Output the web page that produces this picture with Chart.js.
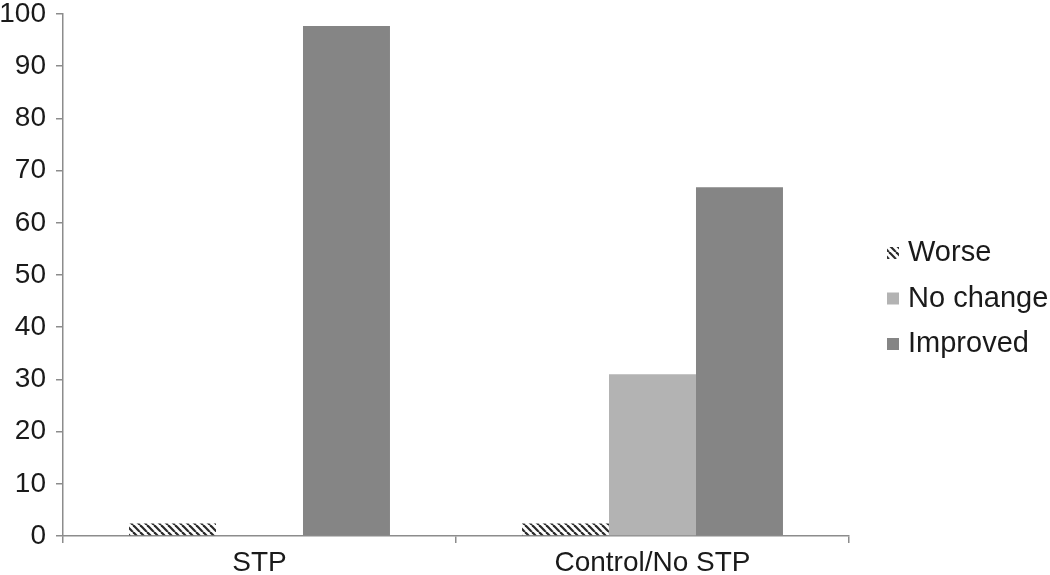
<!DOCTYPE html>
<html>
<head>
<meta charset="utf-8">
<script src="https://cdn.jsdelivr.net/npm/chart.js@4.4.0/dist/chart.umd.min.js"></script>
<style>
  html, body { margin: 0; padding: 0; background: #fff; }
  #wrap { width: 1050px; height: 575px; }
</style>
</head>
<body>
<div id="wrap"><canvas id="chart"></canvas></div>
<script>
// Data (percent of patients)
const categories = ['STP', 'Control/No STP'];
const seriesLabels = ['Worse', 'No change', 'Improved'];
const worse = [2.4, 2.4];
const noChange = [0, 31];
const improved = [97.7, 66.8];

const axisColor = '#8c8c8c';
const textColor = '#1a1a1a';
const fontFamily = '"Liberation Sans", Arial, Helvetica, sans-serif';

// Diagonal hatch for the "Worse" bars
function makeHatch() {
    const size = 7;
    const c = document.createElement('canvas');
    c.width = size;
    c.height = size;
    const g = c.getContext('2d');
    g.strokeStyle = '#2a2a2a';
    g.lineWidth = 2.2;
    [-size, 0, size].forEach(k => {
        g.beginPath();
        g.moveTo(k, 0);
        g.lineTo(k + size, size);
        g.stroke();
    });
    return g.createPattern(c, 'repeat');
}

// Legend drawn to the right of the plot area
const sideLegend = {
    id: 'sideLegend',
    afterDraw(chart) {
        const {ctx, chartArea} = chart;
        const x = chartArea.right + 38;
        let y = chartArea.top + 239;
        ctx.save();
        ctx.font = '29px ' + fontFamily;
        ctx.textBaseline = 'middle';
        ctx.textAlign = 'left';
        chart.data.datasets.forEach(ds => {
            ctx.fillStyle = ds.backgroundColor;
            ctx.fillRect(x, y - 6, 12, 12);
            ctx.fillStyle = textColor;
            ctx.fillText(ds.label, x + 21, y);
            y += 45.5;
        });
        ctx.restore();
    }
};

Chart.defaults.font.family = fontFamily;
Chart.defaults.font.size = 28;
Chart.defaults.color = textColor;

const ctx = document.getElementById('chart').getContext('2d');
new Chart(ctx, {
    type: 'bar',
    data: {
        labels: categories,
        datasets: [{
            label: seriesLabels[0],
            data: worse,
            backgroundColor: makeHatch()
        }, {
            label: seriesLabels[1],
            data: noChange,
            backgroundColor: '#b3b3b3'
        }, {
            label: seriesLabels[2],
            data: improved,
            backgroundColor: '#858585'
        }]
    },
    options: {
        responsive: true,
        maintainAspectRatio: false,
        animation: false,
        layout: {
            padding: { top: 14, right: 201, bottom: 0, left: 0 }
        },
        datasets: {
            bar: {
                barPercentage: 1,
                categoryPercentage: 0.664,
                borderWidth: 0
            }
        },
        plugins: {
            legend: { display: false },
            tooltip: { enabled: false }
        },
        scales: {
            x: {
                afterFit: s => { s.height = 39; },
                grid: {
                    offset: true,
                    drawOnChartArea: false,
                    drawTicks: true,
                    tickLength: 7,
                    color: axisColor,
                    lineWidth: 1.5
                },
                border: { display: true, color: axisColor, width: 1.5 },
                ticks: {
                    padding: 6,
                    font: { size: 28, lineHeight: 1 },
                    maxRotation: 0
                }
            },
            y: {
                min: 0,
                max: 100,
                afterFit: s => {
                    s.width = 63;
                    s.paddingTop = 0;
                    s.paddingBottom = 0;
                },
                grid: {
                    drawOnChartArea: false,
                    drawTicks: true,
                    tickLength: 7,
                    color: axisColor,
                    lineWidth: 1.5
                },
                border: { display: true, color: axisColor, width: 1.5 },
                ticks: {
                    stepSize: 10,
                    padding: 10,
                    font: { size: 28, lineHeight: 1 }
                }
            }
        }
    },
    plugins: [sideLegend]
});
</script>
</body>
</html>
